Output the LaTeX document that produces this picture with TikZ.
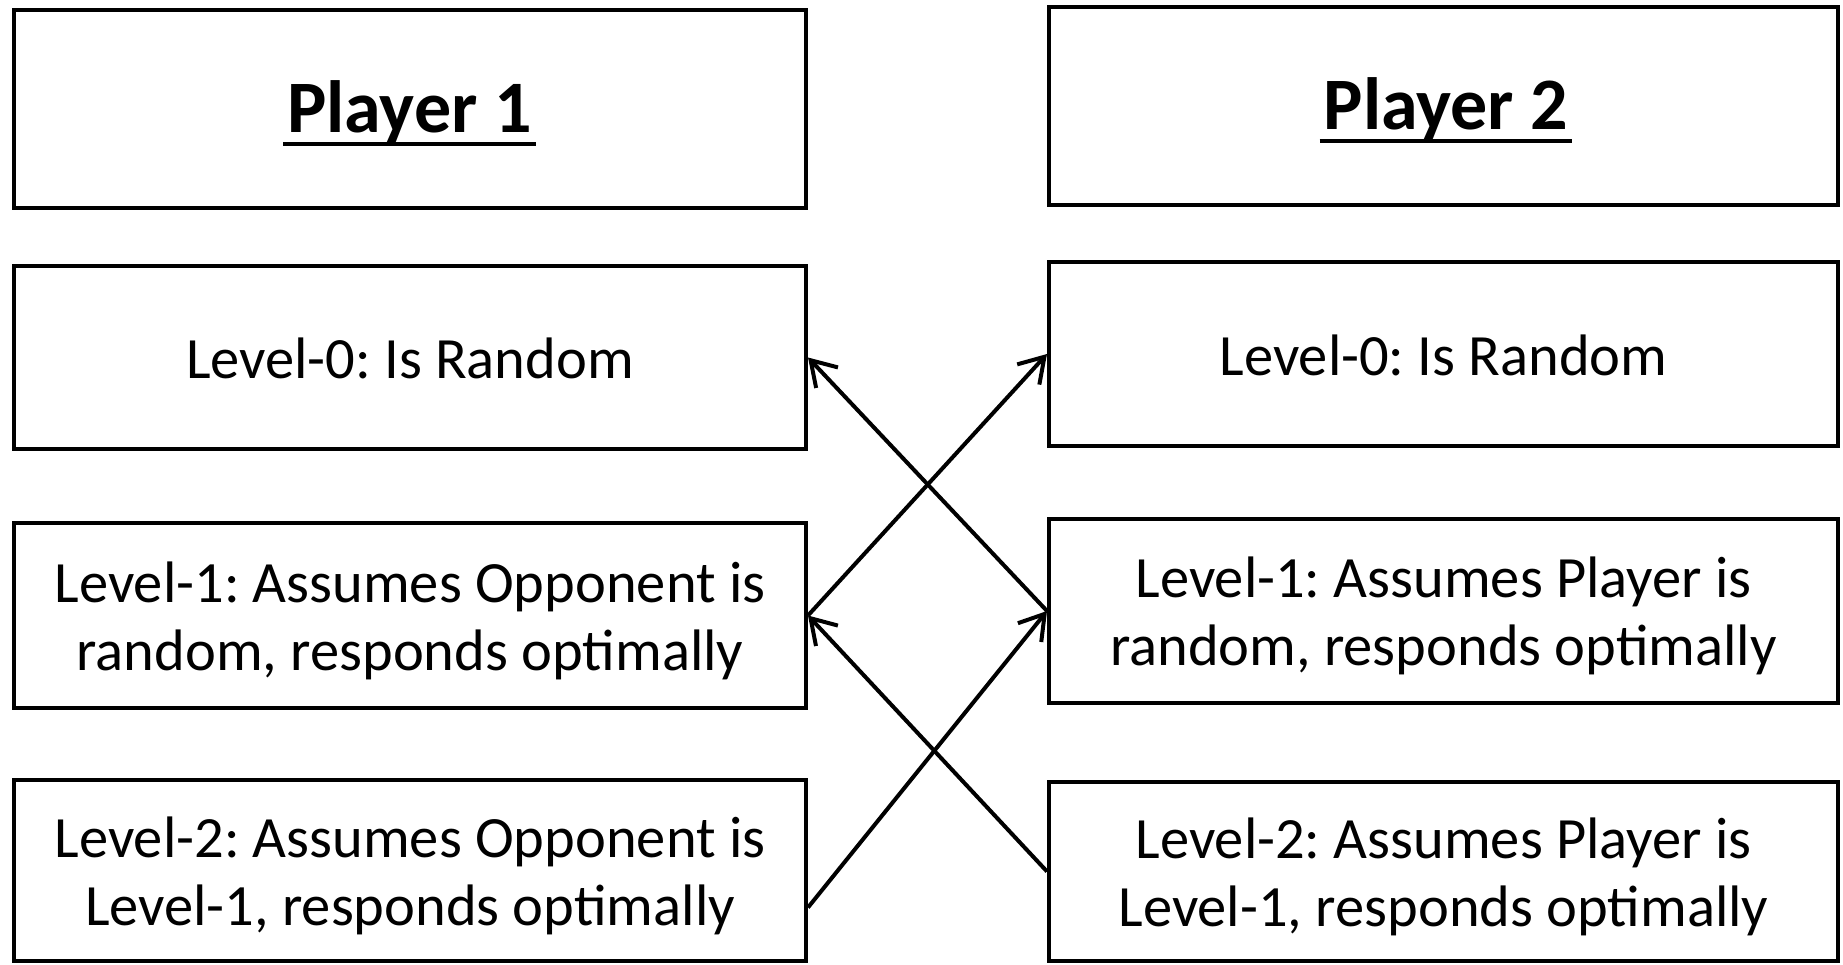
\documentclass[tikz,border=0pt]{standalone}
\usepackage{fontspec}
\setmainfont{Carlito}
\usetikzlibrary{arrows.meta,calc}
\newcommand\ultitle[1]{\vtop{\hbox{\kern4pt\smash{#1}\kern4pt}\kern9pt\hrule height 4pt}}
\begin{document}
\frenchspacing
\begin{tikzpicture}[x=1pt,y=-1pt,
  box/.style={draw=black,line width=4pt,rectangle,inner sep=0pt},
  lbox/.style={box,minimum width=792pt},
  rbox/.style={box,minimum width=789pt},
  txt/.style={align=center,inner sep=0pt,font=\fontsize{58.5pt}{68pt}\selectfont},
  title/.style={anchor=base,inner sep=0pt,font=\fontsize{74pt}{80pt}\selectfont\bfseries},
  arr/.style={line width=4pt,-{Straight Barb[length=24pt,width=30pt,line width=4pt]}}]
\useasboundingbox (0,0) rectangle (1843,965);
% boxes
\node[lbox,minimum height=198pt] (p1) at (410,109) {};
\node[rbox,minimum height=198pt] (p2) at (1443.5,106) {};
\node[lbox,minimum height=183pt] (l0) at (410,357.5) {};
\node[rbox,minimum height=184pt] (r0) at (1443.5,354) {};
\node[lbox,minimum height=185pt] (l1) at (410,615.5) {};
\node[rbox,minimum height=184pt] (r1) at (1443.5,611) {};
\node[lbox,minimum height=181pt] (l2) at (410,870.5) {};
\node[rbox,minimum height=179pt] (r2) at (1443.5,871.5) {};
% texts
\node[title] (p1t) at (409.5,133) {\ultitle{Player 1}};
\node[title] (p2t) at (1446,130) {\ultitle{Player 2}};
\node[txt] (l0t) at ([yshift=-1pt]l0.center) {Level-0: Is Random};
\node[txt] (r0t) at ([yshift=-1pt]r0.center) {Level-0: Is Random};
\node[txt] (l1t) at ([yshift=-5pt]l1.center) {Level-1: Assumes Opponent is\\random, responds optimally};
\node[txt] (r1t) at ([yshift=-5pt]r1.center) {Level-1: Assumes Player is\\random, responds optimally};
\node[txt] (l2t) at ([yshift=-5pt]l2.center) {Level-2: Assumes Opponent is\\Level-1, responds optimally};
\node[txt] (r2t) at ([yshift=-5pt]r2.center) {Level-2: Assumes Player is\\Level-1, responds optimally};
% connectors
\draw[arr] (r1.west) -- (l0.east);
\draw[arr] (l1.east) -- (r0.west);
\draw[arr] (r2.west) -- (l1.east);
\draw[arr] ($(l2.south east)!0.3!(l2.north east)$) -- (r1.west);
\end{tikzpicture}
\end{document}
